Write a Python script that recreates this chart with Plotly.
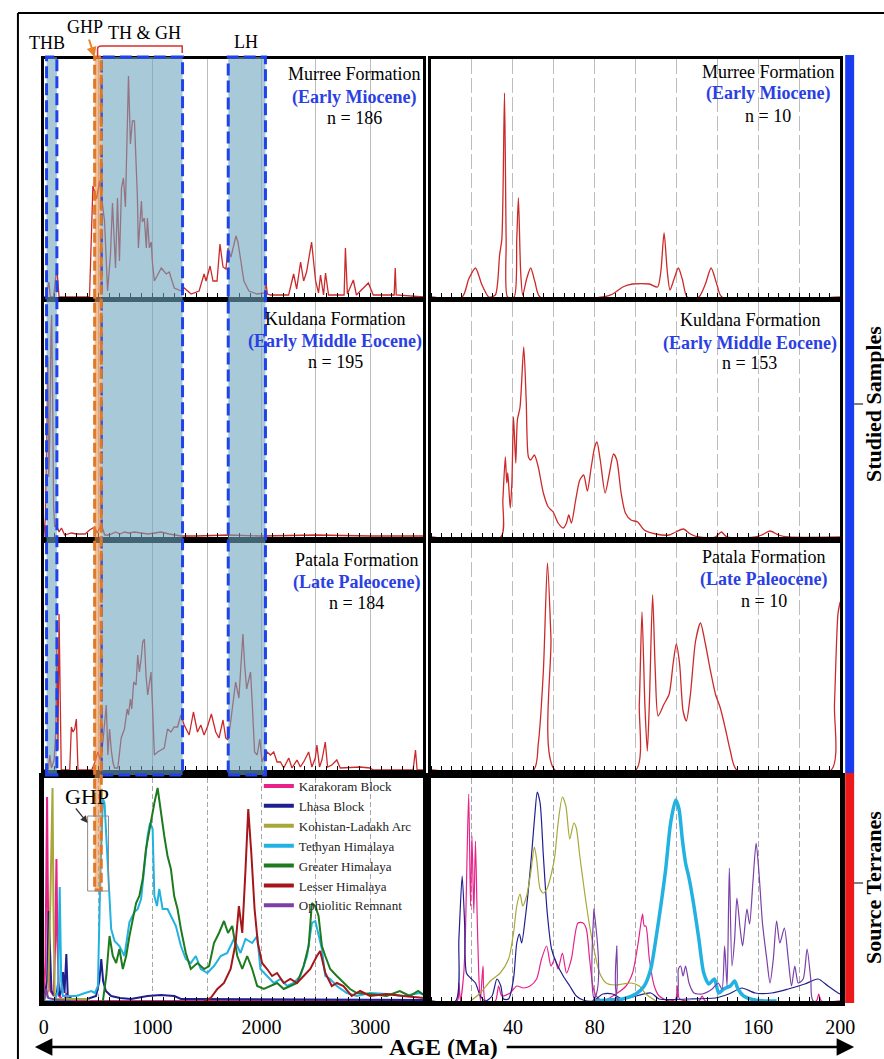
import plotly.graph_objects as go

W, H = 884, 1059          # reference picture size (layout designed in these pixels)
FIG_W = 900               # page is captured ~900 px wide and fitted to 884
def px(x): return x / W
def py(y): return 1 - y / H

SERIF = "Liberation Serif, Times New Roman, serif"

# ---------------- DATA (age in Ma, relative probability density) ----------------
FORMATIONS = ["Murree Formation", "Kuldana Formation", "Patala Formation"]
EPOCHS = ["(Early Miocene)", "(Early Middle Eocene)", "(Late Paleocene)"]
N_LEFT = [186, 195, 184]
N_RIGHT = [10, 153, 10]

MURREE_LEFT = [(0,0),(20,0),(46,15),(60,0),(90,0),(119,30),(140,0),(420,0),(451,111),(485,98),(512,116),(558,76),(586,6),(613,43),(631,94),(659,29),(677,99),(695,36),(714,109),(732,119),(750,90),(759,136),(778,221),(796,153),(814,176),(833,176),(851,126),(860,100),(869,49),(897,96),(906,75),(924,79),(942,49),(952,79),(970,49),(988,55),(997,36),(1016,16),(1080,29),(1125,23),(1153,25),(1199,9),(1263,6),(1290,9),(1354,3),(1427,6),(1473,23),(1491,16),(1528,31),(1555,16),(1592,16),(1619,53),(1647,30),(1674,28),(1693,49),(1720,40),(1766,61),(1784,55),(1811,36),(1839,16),(1885,6),(1958,3),(2030,4),(2040,16),(2055,3),(2086,2),(2250,2),(2269,10),(2296,23),(2324,8),(2360,35),(2388,16),(2415,25),(2461,55),(2498,16),(2525,4),(2543,22),(2571,2),(2589,24),(2617,2),(2690,2),(2760,2),(2772,49),(2790,3),(2845,17),(2873,2),(2983,14),(3028,2),(3220,2),(3230,29),(3239,2),(3495,0)]

KULDANA_LEFT = [(0,0),(15,20),(30,120),(37,180),(45,60),(55,100),(65,200),(72,222),(80,150),(90,30),(100,10),(116,12),(140,5),(162,9),(192,2),(253,4),(300,3),(380,3),(421,7),(467,10),(490,4),(528,12),(560,2),(600,2),(660,5),(700,3),(741,5),(780,4),(833,5),(900,4),(960,3),(1077,5),(1150,3),(1260,1),(1400,1),(1700,2),(2000,1),(2500,2),(3000,1),(3495,1)]

PATALA_LEFT = [(0,0),(40,0),(55,15),(70,2),(95,10),(110,40),(119,125),(124,30),(130,20),(140,156),(150,40),(160,0),(238,0),(253,43),(268,38),(284,41),(299,51),(314,0),(440,0),(470,8),(497,18),(520,10),(543,28),(574,65),(589,15),(604,41),(620,20),(635,8),(650,2),(680,2),(711,32),(741,41),(766,61),(778,55),(796,71),(808,61),(826,88),(848,85),(863,115),(878,98),(894,111),(909,128),(924,131),(939,95),(955,75),(973,88),(985,98),(1000,61),(1016,15),(1046,18),(1107,22),(1137,41),(1168,38),(1198,43),(1229,43),(1260,55),(1290,45),(1336,35),(1375,58),(1412,38),(1443,45),(1473,35),(1503,43),(1540,56),(1580,38),(1610,32),(1647,50),(1672,32),(1693,30),(1717,48),(1763,88),(1793,72),(1830,136),(1846,105),(1864,81),(1879,88),(1900,98),(1915,68),(1937,18),(1961,15),(1985,31),(2006,8),(2031,15),(2052,18),(2083,15),(2113,18),(2144,8),(2175,8),(2205,2),(2251,12),(2281,2),(2327,10),(2358,3),(2388,8),(2434,18),(2464,3),(2495,12),(2510,25),(2534,3),(2556,10),(2587,28),(2608,3),(2647,5),(2693,10),(2724,2),(2907,3),(2998,2),(3028,0),(3394,0),(3416,20),(3431,0),(3495,0)]

MURREE_RIGHT = [(0,0),(15.2,0),(18.4,18),(21.7,29),(24.9,12),(28.2,0),(31.4,2),(33.5,42),(34.6,58),(35.9,204),(36.7,58),(37.4,0),(40.6,0),(41.9,58),(42.7,99),(43.8,25),(44.8,2),(46.7,18),(48.7,29),(50.8,15),(53.3,0),(84,0),(88.8,3),(93.7,10),(98.5,13),(106.7,13),(110.7,10),(112.3,25),(113.9,64),(115.5,25),(116.8,7),(118.8,18),(120.9,29),(122.8,18),(125.2,0),(130.9,0),(134.1,13),(136.9,29),(139.8,12),(142.2,0),(200,0)]

KULDANA_RIGHT = [(0,0),(34.1,0),(35.1,37),(36.3,80),(37,54),(37.5,64),(38.7,29),(39.5,54),(40.3,120),(41.4,74),(42.2,117),(43.5,130),(45.3,190),(46.5,137),(47.6,80),(48.7,77),(50.5,82),(52.4,70),(54.9,44),(57.3,30),(59.7,25),(62.1,14),(64.6,9),(66.2,14),(67.3,22),(68.6,14),(70.7,37),(72.7,57),(74.6,62),(76.4,46),(78.3,70),(80,90),(81.1,95),(82.7,77),(85.1,44),(87.2,64),(89.2,83),(90.8,77),(92.9,44),(95,24),(97.7,17),(101,15),(104.2,7),(109.9,3),(116.4,2),(119.6,5),(123.3,8),(126.8,3),(130.9,0),(139,0),(141.9,5),(144.7,0),(158.4,0),(161.7,2),(165.7,6),(169.8,2),(174.6,0),(200,0)]

PATALA_RIGHT = [(0,0),(50,0),(52.4,26),(54.9,99),(56.9,207),(58.6,132),(60.5,0),(100.1,0),(101.8,66),(103.1,158),(104.5,66),(105.7,19),(106.7,66),(108.3,175),(109.6,99),(111,54),(113.9,66),(116.4,76),(118.3,106),(119.9,126),(121.5,106),(123.2,59),(124.8,49),(126.8,76),(129.3,129),(131.7,147),(134.1,126),(136.6,99),(139,76),(141.4,62),(143.8,42),(146.3,19),(149.5,0),(195.6,0),(197.2,66),(198.9,156),(200,168)]

TERRANES = ["Karakoram Block", "Lhasa Block", "Kohistan-Ladakh Arc", "Tethyan Himalaya",
            "Greater Himalaya", "Lesser Himalaya", "Ophiolitic Remnant"]
TERRANE_COLORS = ["#e8228a", "#1f1f8f", "#a8a83a", "#22b2e2", "#1e7a1e", "#a5161a", "#7a3fa8"]

KARAKORAM_LEFT = [(0,0),(15,40),(25,150),(30,204),(36,120),(45,30),(60,10),(90,5),(105,60),(116,142),(125,60),(140,5),(190,0),(207,8),(220,0),(3495,0)]
LHASA_LEFT = [(0,0),(30,20),(45,90),(55,60),(70,10),(100,5),(120,8),(131,18),(145,5),(160,10),(177,29),(190,8),(207,47),(220,5),(260,2),(400,2),(480,5),(510,20),(528,42),(545,20),(570,10),(619,5),(700,3),(800,2),(954,5),(1075,6),(1200,5),(1260,2),(1400,2),(3495,1)]
KOHISTAN_LEFT = [(0,0),(40,10),(60,100),(75,180),(80,213),(88,100),(100,5),(120,2),(400,2),(420,0)]
TETHYAN_LEFT = [(0,0),(100,0),(130,10),(146,114),(160,20),(175,5),(200,5),(300,5),(380,8),(436,10),(470,8),(497,15),(521,132),(543,202),(558,198),(587,132),(619,72),(650,60),(695,55),(741,45),(787,79),(833,89),(863,92),(894,102),(924,132),(954,165),(976,178),(1000,172),(1016,105),(1040,95),(1061,112),(1092,92),(1137,92),(1168,85),(1214,75),(1260,55),(1305,42),(1351,38),(1397,45),(1443,32),(1503,28),(1564,35),(1626,45),(1686,48),(1747,62),(1808,48),(1854,62),(1915,58),(1961,65),(1991,32),(2052,25),(2113,18),(2175,22),(2236,15),(2296,18),(2358,25),(2419,45),(2464,78),(2495,80),(2525,65),(2556,52),(2587,25),(2632,22),(2693,15),(2785,8),(2876,5),(2998,8),(3150,7),(3303,5),(3455,8),(3495,6)]
GREATER_LEFT = [(543,0),(574,25),(604,65),(634,45),(665,38),(695,52),(726,32),(757,45),(787,65),(817,82),(848,98),(878,105),(909,122),(939,152),(985,182),(1016,198),(1046,213),(1076,188),(1107,165),(1137,145),(1168,132),(1198,105),(1229,92),(1260,72),(1305,48),(1351,32),(1412,38),(1473,32),(1519,35),(1564,58),(1610,68),(1656,80),(1693,68),(1732,75),(1778,45),(1824,32),(1869,45),(1915,32),(1961,15),(2022,12),(2083,15),(2144,18),(2205,12),(2266,15),(2327,18),(2388,35),(2434,55),(2464,98),(2495,95),(2525,85),(2556,55),(2587,45),(2632,32),(2693,25),(2754,18),(2815,12),(2876,8),(2998,7),(3150,5),(3272,10),(3364,5),(3440,10),(3495,6)]
LESSER_LEFT = [(1473,0),(1534,3),(1595,12),(1656,18),(1717,32),(1763,58),(1793,95),(1824,68),(1854,132),(1879,192),(1907,148),(1937,92),(1967,58),(2006,38),(2052,32),(2098,25),(2144,28),(2205,18),(2266,22),(2327,18),(2388,25),(2449,32),(2510,45),(2540,50),(2587,28),(2647,15),(2693,18),(2754,15),(2830,5),(2907,10),(2998,5),(3150,7),(3303,5),(3455,3),(3495,3)]
OPHIOLITIC_LEFT = [(0,0),(20,12),(40,3),(120,1),(250,0)]

KARAKORAM_RIGHT = [(0,0),(12.8,0),(13.6,18),(14.4,0),(16,28),(16.8,68),(17.6,145),(18.4,207),(19.3,95),(20,165),(20.9,88),(21.7,160),(22.5,88),(23.3,28),(24.1,0),(25.4,35),(26.6,0),(31.4,0),(33,15),(34.6,5),(38.7,8),(41.9,15),(45.1,13),(48.4,15),(51.6,22),(54,42),(56.5,55),(58.6,35),(60.5,42),(62.1,32),(64.2,48),(66.2,28),(68.6,42),(71.8,78),(74.3,78),(75.9,72),(77.5,42),(79.1,15),(80.7,5),(84,0),(90.4,7),(95.3,15),(98.5,28),(101,55),(102.6,78),(103.4,87),(104.2,75),(105,75),(106.7,42),(109.1,15),(111.5,5),(116.4,0),(119.6,2),(120.4,15),(121.5,2),(130.9,0),(132.5,5),(134.1,0),(188.3,0),(189.5,7),(190.8,0),(200,0)]
LHASA_RIGHT = [(0,0),(12,0),(13.6,62),(15.2,125),(16.4,78),(17.3,28),(19.3,23),(21.7,18),(24.1,5),(26.6,0),(29.8,5),(32.2,22),(34.1,15),(35.4,2),(37.9,2),(40.3,22),(41.9,58),(43.2,67),(44.3,58),(46,82),(47.6,112),(49.2,148),(50.8,188),(51.9,209),(53.3,198),(54.9,145),(56.8,88),(58.9,52),(61.3,38),(64.6,25),(67.8,15),(71,5),(74.3,1),(79.1,0),(84,7),(88.8,7),(93.7,2),(107.4,8),(111.5,2),(126.1,2),(139,3),(145.5,7),(151.9,13),(158.4,8),(166.5,8),(174.6,12),(182.7,17),(189.2,22),(194,15),(198.9,8),(200,7)]
KOHISTAN_RIGHT = [(19.3,0),(24.1,8),(29,20),(33.8,28),(37.9,42),(40.3,68),(41.9,95),(43.5,107),(44.8,95),(46.7,105),(48.7,128),(50.5,154),(51.6,142),(53.3,112),(54.9,108),(56.8,113),(58.9,128),(60.5,145),(62.1,178),(64.2,204),(65.9,195),(67.8,162),(69.8,178),(71,173),(72.7,145),(75.1,108),(77.5,75),(80,48),(82.4,28),(85.6,18),(89.7,16),(93.7,17),(97.7,18),(101.8,15),(105,7),(109.9,0)]
TETHYAN_RIGHT = [(79.1,0),(87.2,1),(93.7,2),(100.1,7),(104.2,15),(107.4,32),(109.9,62),(112.3,95),(114.7,132),(117.1,178),(119.6,201),(121.2,192),(122.8,162),(124.4,138),(126.1,123),(128.5,95),(130.9,62),(133.3,28),(135.8,17),(138.5,22),(140.6,8),(143.1,12),(146.3,15),(148.4,20),(150,12),(152.8,5),(158.4,1),(168.9,0)]
OPHIOLITIC_RIGHT = [(0,0),(79.1,0),(79.6,92),(80.2,0),(89.7,0),(90.8,55),(91.7,0),(119.6,0),(120.9,32),(122,35),(123.2,25),(124.4,35),(126.1,18),(128.5,8),(132.5,7),(137.4,12),(140.3,18),(142.2,12),(143.5,55),(144.7,15),(145.8,133),(147.1,35),(148.4,62),(149.5,103),(151.1,72),(152.3,55),(154.4,92),(155.7,77),(157.3,118),(158.9,158),(160.3,128),(162,78),(164.1,42),(165.7,18),(167.3,42),(168.9,80),(170.5,58),(172.7,73),(174.6,42),(176.2,15),(177.8,35),(179.5,18),(181.9,22),(183.8,52),(185.6,22),(186.8,0),(200,0)]

LEFT_TICKS = [0, 500, 1000, 1500, 2000, 2500, 3000]
LEFT_TICK_LABELS = ["0", "", "1000", "", "2000", "", "3000"]
RIGHT_TICKS = [0, 20, 40, 60, 80, 100, 120, 140, 160, 180, 200]
RIGHT_TICK_LABELS = ["", "", "40", "", "80", "", "120", "", "160", "", "200"]

BANDS = [("THB", 25, 120), ("TH & GH", 528, 1275), ("LH", 1695, 2037)]
GHP_BAND = (467, 528)

# ---------------- LAYOUT GEOMETRY ----------------
LEFT_DOM = [px(39), px(420)]
RIGHT_DOM = [px(428), px(839)]
ROWS = [(59, 297), (302, 537), (543, 770), (778, 1001)]
LEFT_RANGE = [0, 3486]
RIGHT_RANGE = [0, 200]

fig = go.Figure()

def add(series, axis_n, color, width, smooth=False):
    xs, ys = zip(*series)
    line = dict(color=color, width=width)
    if smooth:
        line.update(shape="spline", smoothing=0.7)
    fig.add_trace(go.Scatter(x=list(xs), y=list(ys), mode="lines", line=line,
                             xaxis="x" if axis_n == 1 else f"x{axis_n}",
                             yaxis="y" if axis_n == 1 else f"y{axis_n}",
                             showlegend=False, hoverinfo="skip"))

RED = "#cc2a2a"
add(MURREE_LEFT, 1, RED, 1.3)
add(KULDANA_LEFT, 2, RED, 1.3)
add(PATALA_LEFT, 3, RED, 1.3)
add(MURREE_RIGHT, 5, RED, 1.3, smooth=True)
add(KULDANA_RIGHT, 6, RED, 1.3, smooth=True)
add(PATALA_RIGHT, 7, RED, 1.3, smooth=True)

left_src = [KARAKORAM_LEFT, LHASA_LEFT, KOHISTAN_LEFT, TETHYAN_LEFT, GREATER_LEFT, LESSER_LEFT, OPHIOLITIC_LEFT]
right_src = [KARAKORAM_RIGHT, LHASA_RIGHT, KOHISTAN_RIGHT, TETHYAN_RIGHT, OPHIOLITIC_RIGHT]
right_idx = [0, 1, 2, 3, 6]
for i, s in enumerate(left_src):
    add(s, 4, TERRANE_COLORS[i], 2.0)
for s, i in zip(right_src, right_idx):
    add(s, 8, TERRANE_COLORS[i], 3.5 if i == 3 else 1.2, smooth=True)
for name, col in zip(TERRANES, TERRANE_COLORS):
    fig.add_trace(go.Scatter(x=[None], y=[None], mode="lines", line=dict(color=col, width=4),
                             name=name, showlegend=True, xaxis="x4", yaxis="y4", hoverinfo="skip"))

layout = {}
for r, (top, bot) in enumerate(ROWS):
    lw = 5 if r == 3 else 3
    hgt = bot - top
    for side in (0, 1):
        n = r + 1 + 4 * side
        key = "" if n == 1 else str(n)
        if side == 0:
            xa = dict(domain=LEFT_DOM, range=LEFT_RANGE, tickmode="array", tickvals=LEFT_TICKS,
                      ticktext=LEFT_TICK_LABELS,
                      gridcolor="#a8a8a8" if r == 3 else "#bdbdbd",
                      griddash="5px,3px" if r == 3 else "solid",
                      minor=dict(tickmode="linear", tick0=0, dtick=100, ticks="inside", ticklen=4,
                                 tickcolor="black", tickwidth=1, showgrid=False))
        else:
            xa = dict(domain=RIGHT_DOM, range=RIGHT_RANGE, tickmode="array", tickvals=RIGHT_TICKS,
                      ticktext=RIGHT_TICK_LABELS,
                      gridcolor="#a8a8a8" if r == 3 else "#bdbdbd",
                      griddash="6px,3px" if r == 3 else "15px,4px",
                      minor=dict(tickmode="linear", tick0=0, dtick=5, ticks="inside", ticklen=4,
                                 tickcolor="black", tickwidth=1, showgrid=False))
        xa.update(anchor=f"y{n}" if n > 1 else "y", showline=True, mirror=True, linewidth=lw,
                  linecolor="black", showgrid=True, gridwidth=1, ticks="", zeroline=False,
                  showticklabels=(r == 3), ticklabelstandoff=4,
                  tickfont=dict(family=SERIF, size=20, color="black"), fixedrange=True)
        ya = dict(domain=[py(bot), py(top)], range=[0, hgt], anchor=f"x{n}" if n > 1 else "x",
                  showline=True, mirror=True, linewidth=lw, linecolor="black",
                  showgrid=False, zeroline=False, showticklabels=False, ticks="", fixedrange=True)
        layout["xaxis" + key] = xa
        layout["yaxis" + key] = ya

shapes = []
for _, a0, a1 in BANDS:
    shapes.append(dict(type="rect", xref="x", yref="paper", x0=a0, x1=a1, y0=py(775), y1=py(57),
                       fillcolor="rgba(110,165,190,0.6)", layer="above",
                       line=dict(color="#1f43ea", width=3, dash="12px,5px")))
shapes.append(dict(type="rect", xref="x", yref="paper", x0=GHP_BAND[0], x1=GHP_BAND[1],
                   y0=py(890), y1=py(57), fillcolor="rgba(232,150,80,0.6)", layer="above",
                   line=dict(color="#e0782a", width=3, dash="10px,4px")))
shapes.append(dict(type="rect", xref="paper", yref="paper", x0=px(83), x1=px(104), y0=py(891), y1=py(816),
                   line=dict(color="#8a8a8a", width=1), layer="above"))
shapes.append(dict(type="path", xref="paper", yref="paper",
                   path=f"M {px(93)},{py(57)} L {px(93)},{py(49)} Q {px(93)},{py(46)} {px(97)},{py(46)} "
                        f"L {px(178)},{py(46)} L {px(178)},{py(53)}",
                   line=dict(color="#d9302a", width=1.5)))
shapes.append(dict(type="rect", xref="paper", yref="paper", x0=px(844), x1=px(853), y0=py(773), y1=py(55),
                   fillcolor="#1a3cf0", line=dict(width=0)))
shapes.append(dict(type="rect", xref="paper", yref="paper", x0=px(844), x1=px(853), y0=py(1003), y1=py(773),
                   fillcolor="#ec1a1a", line=dict(width=0)))
for yy in (404, 883):
    shapes.append(dict(type="line", xref="paper", yref="paper", x0=px(853), x1=px(862), y0=py(yy), y1=py(yy),
                       line=dict(color="black", width=1)))
shapes.append(dict(type="line", xref="paper", yref="paper", x0=px(13), x1=1, y0=py(13), y1=py(13),
                   line=dict(color="black", width=2)))
shapes.append(dict(type="line", xref="paper", yref="paper", x0=px(13), x1=px(13), y0=py(13), y1=0,
                   line=dict(color="black", width=2)))

ann = []
def text(x, y, t, size=18, color="black", bold=False, angle=0):
    ann.append(dict(x=px(x), y=py(y), xref="paper", yref="paper", text=f"<b>{t}</b>" if bold else t,
                    showarrow=False, xanchor="center", yanchor="middle", textangle=angle,
                    font=dict(family=SERIF, size=size, color=color)))

BLUE_TXT = "#2b3fe3"
left_pos = [(351, 74, 97, 118), (332, 319, 342, 362), (353, 560, 582, 603)]
right_pos = [(766, 72, 94, 116), (748, 320, 343, 363), (762, 557, 579, 601)]
for i in range(3):
    cx, y1, y2, y3 = left_pos[i]
    text(cx, y1, FORMATIONS[i]); text(cx, y2, EPOCHS[i], color=BLUE_TXT, bold=True); text(cx, y3, f"n = {N_LEFT[i]}")
    cx, y1, y2, y3 = right_pos[i]
    text(cx, y1, FORMATIONS[i]); text(cx, y2, EPOCHS[i], color=BLUE_TXT, bold=True); text(cx, y3, f"n = {N_RIGHT[i]}")

text(42, 43, "THB", size=18)
text(80, 27, "GHP", size=18)
text(140, 33, "TH &amp; GH", size=18)
text(242, 42, "LH", size=18)
text(82, 796, "GHP", size=22)
text(440, 1047, "AGE (Ma)", size=24, bold=True)
text(872, 404, "Studied Samples", size=22, bold=True, angle=-90)
text(872, 888, "Source Terranes", size=22, bold=True, angle=-90)

def arrow(x, y, ax, ay, color, width, head, size):
    ann.append(dict(x=px(x), y=py(y), xref="paper", yref="paper", ax=ax, ay=ay, text="",
                    showarrow=True, arrowhead=head, arrowsize=size, arrowwidth=width, arrowcolor=color,
                    standoff=0, startstandoff=0))

arrow(90, 57, -6, -19, "#e8832a", 2, 2, 1.0)
arrow(83, 823, -13, -16, "#333333", 1.2, 2, 1.2)
arrow(30, 1047, 349, 0, "black", 2.5, 2, 1.4)
arrow(853, 1047, -349, 0, "black", 2.5, 2, 1.4)

fig.update_layout(**layout)
fig.update_layout(
    width=FIG_W, height=H, autosize=False, margin=dict(l=0, r=0, t=0, b=0),
    paper_bgcolor="white", plot_bgcolor="white",
    shapes=shapes, annotations=ann,
    legend=dict(x=px(255), y=py(771), xanchor="left", yanchor="top", bgcolor="rgba(0,0,0,0)",
                font=dict(family=SERIF, size=13, color="#222"), itemwidth=30, tracegroupgap=0,
                traceorder="normal"),
    font=dict(family=SERIF),
)

POST = ("document.documentElement.style.overflow='hidden';"
        "document.body.style.overflow='hidden';document.body.style.margin='0';")
fig.write_html("out.html", config={"displayModeBar": False, "responsive": False}, post_script=POST)
